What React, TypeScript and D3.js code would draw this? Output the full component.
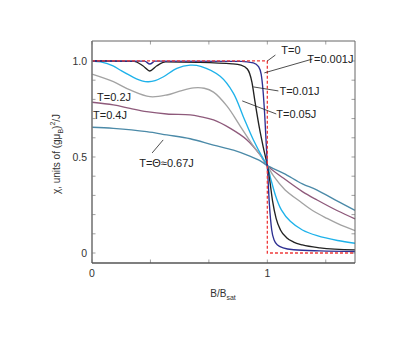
import React from "react";
import * as d3 from "d3";

// ---------- data ----------
const t0X = [0, 1, 1, 1.5];
const t0Y = [1, 1, 0, 0];

const t0001X = [0, 0.3, 0.33, 0.36, 0.85, 0.92, 0.95, 0.965, 0.975, 0.985, 1.0, 1.012, 1.025, 1.04, 1.06, 1.09, 1.15, 1.3, 1.5];
const t0001Y = [1.0, 0.999, 0.984, 0.999, 0.998, 0.99, 0.97, 0.93, 0.85, 0.72, 0.455, 0.25, 0.12, 0.065, 0.04, 0.027, 0.017, 0.011, 0.008];

const t001X = [0, 0.24, 0.29, 0.33, 0.37, 0.42, 0.6, 0.8, 0.85, 0.886, 0.912, 0.931, 0.955, 0.977, 1.0, 1.015, 1.03, 1.05, 1.075, 1.11, 1.15, 1.2, 1.3, 1.5];
const t001Y = [1.0, 0.998, 0.975, 0.948, 0.975, 0.995, 0.993, 0.985, 0.978, 0.958, 0.89, 0.78, 0.65, 0.55, 0.455, 0.37, 0.27, 0.18, 0.12, 0.08, 0.057, 0.042, 0.027, 0.016];

const t005X = [0, 0.05, 0.12, 0.16, 0.236, 0.29, 0.322, 0.36, 0.408, 0.484, 0.56, 0.62, 0.731, 0.806, 0.863, 0.92, 0.977, 1.0, 1.02, 1.05, 1.08, 1.131, 1.2, 1.284, 1.4, 1.5];
const t005Y = [1.0, 0.995, 0.975, 0.953, 0.915, 0.895, 0.892, 0.898, 0.918, 0.962, 0.978, 0.972, 0.92, 0.833, 0.71, 0.59, 0.49, 0.455, 0.385, 0.29, 0.225, 0.165, 0.12, 0.09, 0.065, 0.051];

const t02X = [0, 0.122, 0.217, 0.331, 0.427, 0.5, 0.58, 0.64, 0.693, 0.77, 0.846, 0.922, 0.96, 1.0, 1.036, 1.1, 1.189, 1.26, 1.341, 1.42, 1.5];
const t02Y = [0.931, 0.892, 0.849, 0.814, 0.823, 0.843, 0.86, 0.858, 0.838, 0.765, 0.66, 0.555, 0.51, 0.455, 0.4, 0.33, 0.267, 0.22, 0.18, 0.145, 0.117];

const t04X = [0, 0.122, 0.217, 0.312, 0.427, 0.56, 0.617, 0.693, 0.789, 0.884, 0.96, 1.0, 1.093, 1.2, 1.284, 1.4, 1.5];
const t04Y = [0.785, 0.771, 0.753, 0.736, 0.724, 0.719, 0.71, 0.693, 0.649, 0.589, 0.51, 0.455, 0.389, 0.32, 0.276, 0.22, 0.178];

const tThX = [0, 0.122, 0.312, 0.427, 0.56, 0.693, 0.807, 0.9, 0.96, 1.0, 1.093, 1.2, 1.284, 1.4, 1.5];
const tThY = [0.655, 0.649, 0.632, 0.615, 0.595, 0.562, 0.536, 0.505, 0.48, 0.455, 0.415, 0.36, 0.328, 0.27, 0.222];

const xTicks = [0, 1 / 3, 2 / 3, 1, 4 / 3];
const xTickLabels = ["0", "", "", "1", ""];
const yTicks = [0, 0.1, 0.2, 0.3, 0.4, 0.5, 0.6, 0.7, 0.8, 0.9, 1.0];
const yTickLabels = ["0", "", "", "", "", "0.5", "", "", "", "", "1.0"];

// labels: text anchor (data coords) and optional leader line (data coords)
const labelTexts = ["T=0", "T=0.001J", "T=0.01J", "T=0.05J", "T=0.2J", "T=0.4J", "T=\u0398\u22480.67J"];
const labelX = [1.08, 1.228, 1.069, 1.051, 0.029, 0.006, 0.269];
const labelY = [1.036, 0.99, 0.824, 0.703, 0.793, 0.698, 0.449];
const leaderX1 = [1.0, 0.983, 0.92, 0.857, null, null, 0.406];
const leaderY1 = [1.0, 0.938, 0.865, 0.792, null, null, 0.589];
const leaderX2 = [1.046, 1.257, 1.063, 1.051, null, null, 0.343];
const leaderY2 = [1.031, 1.01, 0.844, 0.724, null, null, 0.521];

const series = [
  { x: tThX, y: tThY, color: "#4b8aa8", smooth: true },
  { x: t04X, y: t04Y, color: "#8e5a7b", smooth: true },
  { x: t02X, y: t02Y, color: "#a3a3a3", smooth: true },
  { x: t005X, y: t005Y, color: "#1eb2ea", smooth: true },
  { x: t001X, y: t001Y, color: "#222222", smooth: false },
  { x: t0001X, y: t0001Y, color: "#2e3092", smooth: false },
];

export default function App() {
  const W = 415, H = 345;
  const left = 92, right = 355, top = 41, bottom = 263;
  const x = d3.scaleLinear().domain([0, 1.5]).range([left, right]);
  const y = d3.scaleLinear().domain([-0.052, 1.104]).range([bottom, top]);

  const catmull = d3
    .line<[number, number]>()
    .x((d) => x(d[0]))
    .y((d) => y(d[1]))
    .curve(d3.curveCatmullRom.alpha(0.5));
  const mono = d3
    .line<[number, number]>()
    .x((d) => x(d[0]))
    .y((d) => y(d[1]))
    .curve(d3.curveMonotoneX);
  const straight = d3
    .line<[number, number]>()
    .x((d) => x(d[0]))
    .y((d) => y(d[1]));

  const font = "'Liberation Sans', Arial, sans-serif";
  const tl = 3.5;

  return (
    <svg
      width={W}
      height={H}
      style={{ position: "absolute", left: 0, top: 0, background: "#fff" }}
      fontFamily={font}
    >
      <rect x={0} y={0} width={W} height={H} fill="#fff" />
      {/* ticks */}
      {xTicks.map((t, i) => (
        <g key={"xt" + i} stroke="#888" strokeWidth={0.8}>
          <line x1={x(t)} x2={x(t)} y1={bottom} y2={bottom - tl} />
          <line x1={x(t)} x2={x(t)} y1={top} y2={top + tl} />
        </g>
      ))}
      {yTicks.map((t, i) => (
        <g key={"yt" + i} stroke="#888" strokeWidth={0.8}>
          <line x1={left} x2={left + tl} y1={y(t)} y2={y(t)} />
          <line x1={right} x2={right - tl} y1={y(t)} y2={y(t)} />
        </g>
      ))}
      {/* curves */}
      {series.map((s, i) => {
        const pts = s.x.map((v, j) => [v, s.y[j]] as [number, number]);
        return (
          <path
            key={"s" + i}
            d={(s.smooth ? catmull(pts) : mono(pts)) || ""}
            fill="none"
            stroke={s.color}
            strokeWidth={1.35}
          />
        );
      })}
      <path
        d={straight(t0X.map((v, j) => [v, t0Y[j]] as [number, number])) || ""}
        fill="none"
        stroke="#ee3a3a"
        strokeWidth={1.3}
        strokeDasharray="3,2"
      />
      {/* box */}
      <line x1={left} x2={right} y1={top} y2={top} stroke="#666" strokeWidth={1} />
      <line x1={right} x2={right} y1={top} y2={bottom} stroke="#666" strokeWidth={1} />
      <line x1={left} x2={left} y1={top} y2={bottom} stroke="#777" strokeWidth={1.6} />
      <line x1={left} x2={right} y1={bottom} y2={bottom} stroke="#555" strokeWidth={1.4} />
      {/* tick labels */}
      {xTicks.map((t, i) =>
        xTickLabels[i] ? (
          <text key={"xl" + i} x={x(t)} y={bottom + 14} fontSize={10.5} textAnchor="middle" fill="#333">
            {xTickLabels[i]}
          </text>
        ) : null
      )}
      {yTicks.map((t, i) =>
        yTickLabels[i] ? (
          <text key={"yl" + i} x={left - 5} y={y(t) + 4} fontSize={10.5} textAnchor="end" fill="#333">
            {yTickLabels[i]}
          </text>
        ) : null
      )}
      {/* leader lines and labels */}
      {labelTexts.map((lab, i) => (
        <g key={"lab" + i}>
          {leaderX1[i] !== null ? (
            <line
              x1={x(leaderX1[i] as number)}
              y1={y(leaderY1[i] as number)}
              x2={x(leaderX2[i] as number)}
              y2={y(leaderY2[i] as number)}
              stroke="#222"
              strokeWidth={0.8}
            />
          ) : null}
          <text x={x(labelX[i])} y={y(labelY[i])} fontSize={11} fill="#222">
            {lab}
          </text>
        </g>
      ))}
      {/* axis titles */}
      <text x={223} y={297} fontSize={10} textAnchor="middle" fill="#333">
        B/B<tspan fontSize={7} dy={3}>sat</tspan>
      </text>
      <text transform="translate(60,154) rotate(-90)" fontSize={10} textAnchor="middle" fill="#333">
        {"\u03c7, units of (g\u03bc"}
        <tspan fontSize={7} dy={3}>B</tspan>
        <tspan dy={-3}>)</tspan>
        <tspan fontSize={7} dy={-5}>2</tspan>
        <tspan dy={5}>/J</tspan>
      </text>
    </svg>
  );
}
